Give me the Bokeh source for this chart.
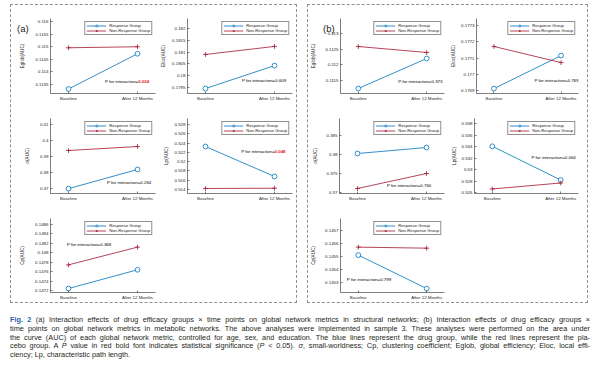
from bokeh.plotting import figure
from bokeh.models import FixedTicker, Label, Legend, LegendItem, Range1d, Div, Spacer
from bokeh.layouts import row, column
from bokeh.embed import file_html
from bokeh.resources import INLINE

FONT = "Liberation Sans"
BLUE = "#0072BD"
RED = "#A2142F"
SIGRED = "#E8202A"
AX = "#262626"

# ---------------- data ----------------
time_pos = [1, 2]
time_labels = ["Baseline", "After 12 Months"]
group_names = ["Response Group", "Non-Response Group"]

# (a) structural networks
a_eglob_resp = [0.11330, 0.11471]
a_eglob_non = [0.11495, 0.11499]
a_eglob_ticks = [0.1135, 0.114, 0.1145, 0.115, 0.1155, 0.116]
a_eglob_ticklabels = ["0.1135", "0.114", "0.1145", "0.115", "0.1155", "0.116"]
a_eglob_p = "0.024"

a_eloc_resp = [0.17946, 0.18043]
a_eloc_non = [0.18090, 0.18124]
a_eloc_ticks = [0.1795, 0.18, 0.1805, 0.181, 0.1815, 0.182]
a_eloc_ticklabels = ["0.1795", "0.18", "0.1805", "0.181", "0.1815", "0.182"]
a_eloc_p = "0.609"

a_sigma_resp = [0.3699, 0.3819]
a_sigma_non = [0.39375, 0.39625]
a_sigma_ticks = [0.37, 0.38, 0.39, 0.4, 0.41]
a_sigma_ticklabels = ["0.37", "0.38", "0.39", "0.4", "0.41"]
a_sigma_p = "0.264"

a_lp_resp = [0.52326, 0.51680]
a_lp_non = [0.51422, 0.51428]
a_lp_ticks = [0.514, 0.516, 0.518, 0.52, 0.522, 0.524, 0.526, 0.528]
a_lp_ticklabels = ["0.514", "0.516", "0.518", "0.52", "0.522", "0.524", "0.526", "0.528"]
a_lp_p = "0.048"

a_cp_resp = [0.147242, 0.147639]
a_cp_non = [0.147743, 0.148119]
a_cp_ticks = [0.1472, 0.1474, 0.1476, 0.1478, 0.148, 0.1482, 0.1484, 0.1486]
a_cp_ticklabels = ["0.1472", "0.1474", "0.1476", "0.1478", "0.148", "0.1482", "0.1484", "0.1486"]
a_cp_p = "0.368"

# (b) metabolic networks
b_eglob_resp = [0.111245, 0.112202]
b_eglob_non = [0.112585, 0.112394]
b_eglob_ticks = [0.1115, 0.112, 0.1125, 0.113]
b_eglob_ticklabels = ["0.1115", "0.112", "0.1125", "0.113"]
b_eglob_p = "0.373"

b_eloc_resp = [0.176912, 0.177115]
b_eloc_non = [0.177171, 0.177072]
b_eloc_ticks = [0.1769, 0.177, 0.1771, 0.1772, 0.1773]
b_eloc_ticklabels = ["0.1769", "0.177", "0.1771", "0.1772", "0.1773"]
b_eloc_p = "0.769"

b_sigma_resp = [0.380263, 0.381842]
b_sigma_non = [0.371053, 0.375000]
b_sigma_ticks = [0.37, 0.375, 0.38, 0.385]
b_sigma_ticklabels = ["0.37", "0.375", "0.38", "0.385"]
b_sigma_p = "0.760"

b_lp_resp = [0.534057, 0.528228]
b_lp_non = [0.526685, 0.527714]
b_lp_ticks = [0.526, 0.528, 0.53, 0.532, 0.534, 0.536, 0.538]
b_lp_ticklabels = ["0.526", "0.528", "0.53", "0.532", "0.534", "0.536", "0.538"]
b_lp_p = "0.064"

b_cp_resp = [0.145511, 0.145255]
b_cp_non = [0.145572, 0.145564]
b_cp_ticks = [0.1453, 0.1454, 0.1455, 0.1456, 0.1457]
b_cp_ticklabels = ["0.1453", "0.1454", "0.1455", "0.1456", "0.1457"]
b_cp_p = "0.799"


def panel(ylabel, resp, non, ticks, ticklabels, ylim, pval, sig, p_at,
          w, h, bl, br, bt, bb, lab_standoff):
    p = figure(width=w, height=h, x_range=Range1d(0.74, 2.26),
               y_range=Range1d(*ylim), title=None, output_backend="svg",
               toolbar_location=None, min_border_left=bl, min_border_right=br,
               min_border_top=bt, min_border_bottom=bb, outline_line_color=None,
               border_fill_color="white", background_fill_color="white")
    p.grid.visible = False
    for ax in (p.xaxis[0], p.yaxis[0]):
        ax.axis_line_color = AX
        ax.axis_line_width = 0.6
        ax.major_tick_line_color = AX
        ax.major_tick_line_width = 0.6
        ax.major_tick_in = 2
        ax.major_tick_out = 0
        ax.minor_tick_line_color = None
        ax.major_label_text_font = FONT
        ax.major_label_text_font_size = "4.4px"
        ax.major_label_text_color = AX
        ax.major_label_standoff = 2
    p.xaxis.ticker = FixedTicker(ticks=time_pos)
    p.xaxis.major_label_overrides = dict(zip(time_pos, time_labels))
    p.yaxis.ticker = FixedTicker(ticks=ticks)
    p.yaxis.major_label_overrides = dict(zip(ticks, ticklabels))
    p.yaxis.axis_label = ylabel
    p.yaxis.axis_label_text_font = FONT
    p.yaxis.axis_label_text_font_size = "4.6px"
    p.yaxis.axis_label_text_font_style = "normal"
    p.yaxis.axis_label_text_color = AX
    p.yaxis.axis_label_standoff = lab_standoff

    l1 = p.line(time_pos, resp, line_color=BLUE, line_width=0.8)
    s1 = p.scatter(time_pos, resp, marker="circle", size=4.8, fill_color="white",
                   line_color=BLUE, line_width=0.8)
    l2 = p.line(time_pos, non, line_color=RED, line_width=0.8)
    s2 = p.scatter(time_pos, non, marker="cross", size=4.8, line_color=RED,
                   line_width=0.8)
    leg = Legend(items=[LegendItem(label=group_names[0], renderers=[l1, s1]),
                        LegendItem(label=group_names[1], renderers=[l2, s2])],
                 location="top_right", margin=3, padding=1, spacing=0,
                 glyph_width=20, glyph_height=5, label_height=5, label_standoff=3,
                 label_text_font=FONT, label_text_font_size="4.2px",
                 label_text_color=AX, border_line_color="#222222",
                 border_line_width=0.5, background_fill_color="white",
                 background_fill_alpha=1.0)
    p.add_layout(leg)

    px, py = p_at
    p.add_layout(Label(x=px, y=py, text="P for interaction=", text_align="right",
                       text_baseline="middle", text_font=FONT,
                       text_font_size="4.4px", text_color="black"))
    p.add_layout(Label(x=px, y=py, text=pval, text_align="left",
                       text_baseline="middle", text_font=FONT,
                       text_font_size="4.4px",
                       text_color=SIGRED if sig else "black",
                       text_font_style="bold" if sig else "normal"))
    return p


# geometry: widths / borders for each column and row
A1 = dict(w=147, bl=39, br=3, lab_standoff=7)
A2 = dict(w=138, bl=29, br=4, lab_standoff=3)
B1 = dict(w=140, bl=31, br=4, lab_standoff=6)
B2 = dict(w=139, bl=25, br=9, lab_standoff=2)
R1 = dict(h=99, bt=13, bb=11)
R2 = dict(h=100, bt=14, bb=11)
R3 = dict(h=98, bt=14, bb=9)

fa1 = panel("Eglob(AUC)", a_eglob_resp, a_eglob_non, a_eglob_ticks, a_eglob_ticklabels,
            (0.11312, 0.11612), a_eglob_p, True, (2.01, 0.11362), **A1, **R1)
fa2 = panel("Eloc(AUC)", a_eloc_resp, a_eloc_non, a_eloc_ticks, a_eloc_ticklabels,
            (0.17925, 0.18242), a_eloc_p, False, (2.01, 0.17980), **A2, **R1)
fa3 = panel("σ(AUC)", a_sigma_resp, a_sigma_non, a_sigma_ticks, a_sigma_ticklabels,
            (0.36688, 0.41375), a_sigma_p, False, (2.04, 0.37375), **A1, **R2)
fa4 = panel("Lp(AUC)", a_lp_resp, a_lp_non, a_lp_ticks, a_lp_ticklabels,
            (0.51314, 0.52929), a_lp_p, True, (2.0, 0.52218), **A2, **R2)
fa5 = panel("Cp(AUC)", a_cp_resp, a_cp_non, a_cp_ticks, a_cp_ticklabels,
            (0.147158, 0.148725), a_cp_p, False, (1.46, 0.148182), **A1, **R3)

fb1 = panel("Eglob(AUC)", b_eglob_resp, b_eglob_non, b_eglob_ticks, b_eglob_ticklabels,
            (0.111085, 0.113479), b_eglob_p, False, (2.07, 0.111468), **B1, **R1)
fb2 = panel("Eloc(AUC)", b_eloc_resp, b_eloc_non, b_eloc_ticks, b_eloc_ticklabels,
            (0.176882, 0.177343), b_eloc_p, False, (2.1, 0.176962), **B2, **R1)
fb3 = panel("σ(AUC)", b_sigma_resp, b_sigma_non, b_sigma_ticks, b_sigma_ticklabels,
            (0.369737, 0.389474), b_sigma_p, False, (1.91, 0.371842), **B1, **R2)
fb4 = panel("Lp(AUC)", b_lp_resp, b_lp_non, b_lp_ticks, b_lp_ticklabels,
            (0.5259, 0.538857), b_lp_p, False, (2.06, 0.532171), **B2, **R2)
fb5 = panel("Cp(AUC)", b_cp_resp, b_cp_non, b_cp_ticks, b_cp_ticklabels,
            (0.145225, 0.145791), b_cp_p, False, (1.32, 0.145323), **B1, **R3)


def tag_div(text, left, top):
    return Div(text='<span style="font-family:\'Liberation Sans\',Arial,sans-serif;'
                    'font-size:9.5px;line-height:11px;color:#222">%s</span>' % text,
               width=16, height=11, margin=0,
               styles={"position": "absolute", "left": "%dpx" % left,
                       "top": "%dpx" % top, "z-index": "10"})


box_style = {"border": "1px dashed #8f8f8f", "position": "relative"}
boxA = column(row(fa1, fa2), row(fa3, fa4), row(fa5, Spacer(width=138, height=98)),
              tag_div("(a)", 6, 15),
              styles=box_style, margin=(4, 0, 0, 10))
boxB = column(row(fb1, fb2), row(fb3, fb4), row(fb5, Spacer(width=139, height=98)),
              tag_div("(b)", 15, 15),
              styles=box_style, margin=(4, 0, 0, 10))

cap_lines = [
    '<span style="color:#1f62b0;font-weight:bold">Fig. 2</span> (a) Interaction effects of drug efficacy groups &times; time points on global network metrics in structural networks; (b) Interaction effects of drug efficacy groups &times;',
    'time points on global network metrics in metabolic networks. The above analyses were implemented in sample 3. These analyses were performed on the area under',
    'the curve (AUC) of each global network metric, controlled for age, sex, and education. The blue lines represent the drug group, while the red lines represent the pla-',
    'cebo group. A <i>P</i> value in red bold font indicates statistical significance (<i>P</i> &lt; 0.05). <i>&sigma;</i>, small-worldness; Cp, clustering coefficient; Eglob, global efficiency; Eloc, local effi-',
    'ciency; Lp, characteristic path length.',
]
inner = "".join(
    '<div style="white-space:nowrap;text-align:%s;text-align-last:%s">%s</div>'
    % ("justify" if i < 4 else "left", "justify" if i < 4 else "left", t)
    for i, t in enumerate(cap_lines))
cap_html = ('<div style="font-family:\'Liberation Sans\',Arial,sans-serif;font-size:7.3px;'
            'line-height:8.8px;color:#231f20;width:580px">' + inner + '</div>')
caption = Div(text=cap_html, width=580, height=46, margin=(13, 0, 0, 10))

layout = column(row(boxA, boxB), caption)

open("out.html", "w").write(file_html(layout, INLINE, title="Fig. 2"))
